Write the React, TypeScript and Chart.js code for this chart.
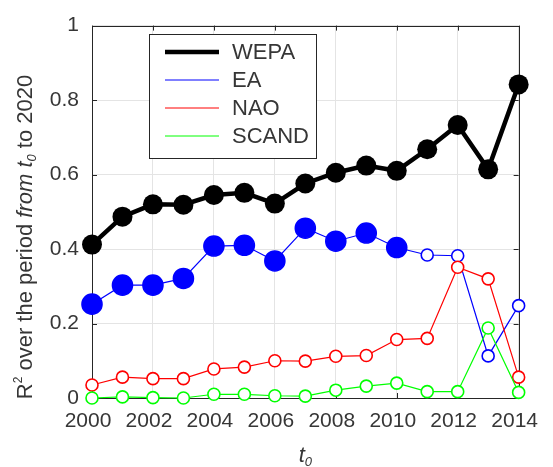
import React, { useEffect, useRef } from "react";
import { Chart, registerables } from "chart.js";

Chart.register(...registerables);

const years = [2000, 2001, 2002, 2003, 2004, 2005, 2006, 2007, 2008, 2009, 2010, 2011, 2012, 2013, 2014];
const wepa = [0.412, 0.487, 0.52, 0.519, 0.545, 0.551, 0.522, 0.576, 0.605, 0.624, 0.61, 0.668, 0.733, 0.614, 0.842];
const ea = [0.252, 0.303, 0.303, 0.321, 0.408, 0.41, 0.368, 0.456, 0.421, 0.443, 0.404, 0.384, 0.382, 0.113, 0.248];
const nao = [0.035, 0.056, 0.052, 0.052, 0.078, 0.083, 0.1, 0.099, 0.112, 0.114, 0.157, 0.16, 0.351, 0.32, 0.056];
const scand = [0.0, 0.003, 0.001, 0.0, 0.01, 0.01, 0.006, 0.005, 0.021, 0.032, 0.04, 0.017, 0.017, 0.188, 0.015];
// EA points significant (filled) up to this year
const eaFilledUntil = 2010;
const xTicks = [2000, 2002, 2004, 2006, 2008, 2010, 2012, 2014];
const yTicks = [0, 0.2, 0.4, 0.6, 0.8, 1];
const legendNames = ["WEPA", "EA", "NAO", "SCAND"];

const BLACK = "#000000";
const BLUE = "#0000ff";
const RED = "#ff0000";
const GREEN = "#00ff00";
const AXIS = "#262626";
const TICK = "#363636";
const FONT = "'Liberation Sans', Arial, sans-serif";

const pts = (vals: number[]) => years.map((y, i) => ({ x: y, y: vals[i] }));

const boxPlugin = {
  id: "box",
  beforeDatasetsDraw(chart: any) {
    const { ctx, chartArea: a, scales } = chart;
    ctx.save();
    ctx.strokeStyle = AXIS;
    ctx.lineWidth = 1;
    ctx.beginPath();
    ctx.rect(Math.round(a.left) + 0.5, Math.round(a.top) + 0.5, Math.round(a.right - a.left), Math.round(a.bottom - a.top));
    ctx.stroke();
    const tl = 5;
    ctx.beginPath();
    xTicks.forEach((t) => {
      const x = Math.round(scales.x.getPixelForValue(t)) + 0.5;
      ctx.moveTo(x, a.bottom);
      ctx.lineTo(x, a.bottom - tl);
      ctx.moveTo(x, a.top);
      ctx.lineTo(x, a.top + tl);
    });
    yTicks.forEach((t) => {
      const y = Math.round(scales.y.getPixelForValue(t)) + 0.5;
      ctx.moveTo(a.left, y);
      ctx.lineTo(a.left + tl, y);
      ctx.moveTo(a.right, y);
      ctx.lineTo(a.right - tl, y);
    });
    ctx.stroke();
    ctx.restore();
  },
};

type Seg = { t: string; size: number; italic?: boolean; dy?: number };

function drawSegs(ctx: CanvasRenderingContext2D, segs: Seg[], cx: number, baseY: number) {
  const fontOf = (s: Seg) => `${s.italic ? "italic " : ""}${s.size}px ${FONT}`;
  let total = 0;
  segs.forEach((s) => {
    ctx.font = fontOf(s);
    total += ctx.measureText(s.t).width;
  });
  let x = cx - total / 2;
  segs.forEach((s) => {
    ctx.font = fontOf(s);
    ctx.fillText(s.t, x, baseY + (s.dy || 0));
    x += ctx.measureText(s.t).width;
  });
}

const titlesPlugin = {
  id: "titles",
  afterDraw(chart: any) {
    const { ctx, chartArea: a } = chart;
    ctx.save();
    ctx.fillStyle = TICK;
    ctx.textAlign = "left";
    ctx.textBaseline = "alphabetic";
    // y title
    ctx.save();
    ctx.translate(32, 237);
    ctx.rotate(-Math.PI / 2);
    drawSegs(
      ctx,
      [
        { t: "R", size: 22 },
        { t: "2", size: 12, dy: -10 },
        { t: " over the period ", size: 22 },
        { t: "from", size: 22, italic: true },
        { t: " ", size: 22 },
        { t: "t", size: 22, italic: true },
        { t: "0", size: 13, italic: true, dy: 4 },
        { t: " to 2020", size: 22 },
      ],
      0,
      0
    );
    ctx.restore();
    // x title
    drawSegs(
      ctx,
      [
        { t: "t", size: 22, italic: true },
        { t: "0", size: 13, italic: true, dy: 4 },
      ],
      (a.left + a.right) / 2,
      462
    );
    ctx.restore();
  },
};

const legendPlugin = {
  id: "boxLegend",
  afterDraw(chart: any) {
    const { ctx } = chart;
    ctx.save();
    ctx.fillStyle = "#ffffff";
    ctx.fillRect(149.5, 34.5, 167, 124);
    ctx.strokeStyle = AXIS;
    ctx.lineWidth = 1;
    ctx.strokeRect(149.5, 34.5, 167, 124);
    const colors = [BLACK, BLUE, RED, GREEN];
    const widths = [4.5, 1, 1, 1];
    legendNames.forEach((n, i) => {
      const y = 52 + i * 28;
      ctx.strokeStyle = colors[i];
      ctx.lineWidth = widths[i];
      ctx.beginPath();
      ctx.moveTo(165, y);
      ctx.lineTo(219, y);
      ctx.stroke();
      ctx.fillStyle = TICK;
      ctx.font = `22px ${FONT}`;
      ctx.textBaseline = "middle";
      ctx.fillText(n, 232, y + 1);
    });
    ctx.restore();
  },
};

export default function App() {
  const ref = useRef<HTMLCanvasElement>(null);
  useEffect(() => {
    if (!ref.current) return;
    const eaRadius = years.map((y) => (y <= eaFilledUntil ? 10 : 6));
    const eaFill = years.map((y) => (y <= eaFilledUntil ? BLUE : "#ffffff"));
    const chart = new Chart(ref.current, {
      type: "line",
      data: {
        datasets: [
          {
            label: "WEPA",
            data: pts(wepa),
            borderColor: BLACK,
            backgroundColor: BLACK,
            borderWidth: 4.5,
            pointRadius: 10,
            pointBackgroundColor: BLACK,
            pointBorderColor: BLACK,
            pointBorderWidth: 0,
            order: 4,
          },
          {
            label: "EA",
            data: pts(ea),
            borderColor: BLUE,
            borderWidth: 1.2,
            pointRadius: eaRadius,
            pointBackgroundColor: eaFill,
            pointBorderColor: BLUE,
            pointBorderWidth: 1.6,
            order: 3,
          },
          {
            label: "NAO",
            data: pts(nao),
            borderColor: RED,
            borderWidth: 1.2,
            pointRadius: 6,
            pointBackgroundColor: "#ffffff",
            pointBorderColor: RED,
            pointBorderWidth: 1.6,
            order: 2,
          },
          {
            label: "SCAND",
            data: pts(scand),
            borderColor: GREEN,
            borderWidth: 1.2,
            pointRadius: 6,
            pointBackgroundColor: "#ffffff",
            pointBorderColor: GREEN,
            pointBorderWidth: 1.6,
            order: 1,
          },
        ],
      },
      options: {
        responsive: false,
        animation: false,
        clip: false as any,
        layout: { padding: { left: 0, top: 19, right: 22, bottom: 0 } },
        plugins: { legend: { display: false }, tooltip: { enabled: false } },
        elements: { line: { tension: 0 } },
        scales: {
          x: {
            type: "linear",
            min: 2000,
            max: 2014,
            afterBuildTicks: (s: any) => {
              s.ticks = xTicks.map((v) => ({ value: v }));
            },
            afterFit: (s: any) => {
              s.height = 69;
            },
            grid: { color: "#e4e4e4", drawTicks: false, lineWidth: 1 },
            border: { display: false },
            ticks: {
              padding: 11,
              labelOffset: -4,
              color: TICK,
              font: { family: FONT, size: 21 },
              callback: (v: any) => String(v),
              maxRotation: 0,
              autoSkip: false,
            },
          },
          y: {
            type: "linear",
            min: 0,
            max: 1,
            afterBuildTicks: (s: any) => {
              s.ticks = yTicks.map((v) => ({ value: v }));
            },
            afterFit: (s: any) => {
              s.width = 92;
            },
            grid: { color: "#e4e4e4", drawTicks: false, lineWidth: 1 },
            border: { display: false },
            ticks: {
              padding: 13,
              color: TICK,
              font: { family: FONT, size: 21 },
              callback: (v: any) => String(Number(Number(v).toFixed(1))),
            },
          },
        },
      },
      plugins: [boxPlugin, titlesPlugin, legendPlugin],
    });
    return () => chart.destroy();
  }, []);
  return (
    <div style={{ position: "fixed", left: 0, top: 0, width: 553, height: 467, background: "#fff" }}>
      <canvas ref={ref} width={553} height={467} style={{ display: "block" }} />
    </div>
  );
}
